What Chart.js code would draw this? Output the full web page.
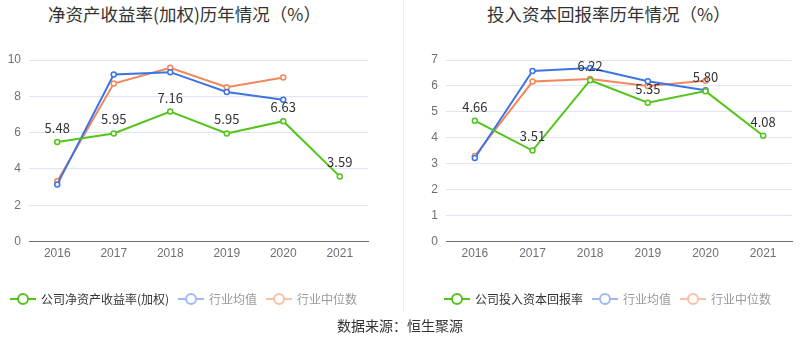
<!DOCTYPE html>
<html>
<head>
  <title>净资产收益率与投入资本回报率</title>
  <script src="https://cdn.jsdelivr.net/npm/chart.js"></script>
  <style>
    body {
      margin: 0;
      width: 800px;
      height: 358px;
      background: #fff;
      font-family: "Noto Sans CJK SC", "Noto Sans", sans-serif;
      position: relative;
      overflow: hidden;
    }
    .title {
      position: absolute;
      top: 1px;
      font-size: 17.5px;
      color: #333;
      white-space: nowrap;
    }
    .box {
      position: absolute;
      top: 0;
      width: 376px;
      height: 323px;
    }
    #divider {
      position: absolute;
      left: 403px;
      top: 0;
      width: 1px;
      height: 312px;
      background: #eeeeee;
    }
    #source {
      position: absolute;
      top: 315px;
      width: 800px;
      text-align: center;
      font-size: 14px;
      color: #333;
    }
  </style>
</head>
<body>
  <div class="title" style="left:48px">净资产收益率(加权)历年情况（%）</div>
  <div class="title" style="left:487px">投入资本回报率历年情况（%）</div>
  <div class="box" style="left:0"><canvas id="roeChart" width="376" height="323"></canvas></div>
  <div class="box" style="left:424px"><canvas id="roicChart" width="376" height="323"></canvas></div>
  <div id="divider"></div>
  <div id="source">数据来源：恒生聚源</div>

  <script>
    const years = ["2016", "2017", "2018", "2019", "2020", "2021"];

    // 净资产收益率(加权)
    const roeCompany = [5.48, 5.95, 7.16, 5.95, 6.63, 3.59];
    const roeAvg = [3.15, 9.2, 9.33, 8.24, 7.81, null];
    const roeMedian = [3.33, 8.7, 9.57, 8.5, 9.04, null];

    // 投入资本回报率
    const roicCompany = [4.66, 3.51, 6.22, 5.35, 5.80, 4.08];
    const roicAvg = [3.22, 6.58, 6.69, 6.18, 5.83, null];
    const roicMedian = [3.30, 6.17, 6.27, 6.0, 6.2, null];

    const GREEN = "#52c41a", BLUE = "#3c74e6", ORANGE = "#f5865c";
    const BLUE_FADE = "#9fbaf2", ORANGE_FADE = "#fbbfa6";

    function legendIcon(color) {
      const c = document.createElement("canvas");
      c.width = 26; c.height = 14;
      const g = c.getContext("2d");
      g.strokeStyle = color;
      g.lineWidth = 2;
      g.beginPath(); g.moveTo(0, 7); g.lineTo(26, 7); g.stroke();
      g.fillStyle = "#fff";
      g.beginPath(); g.arc(13, 7, 5, 0, Math.PI * 2); g.fill(); g.stroke();
      return c;
    }

    const valueLabels = {
      id: "valueLabels",
      afterDatasetsDraw(chart) {
        const ctx = chart.ctx;
        const meta = chart.getDatasetMeta(0);
        ctx.save();
        ctx.font = "13px 'Noto Sans CJK SC', sans-serif";
        ctx.fillStyle = "#333";
        ctx.textAlign = "center";
        ctx.textBaseline = "middle";
        meta.data.forEach((pt, i) => {
          const v = chart.data.datasets[0].data[i];
          if (v == null) return;
          ctx.fillText(v.toFixed(2), pt.x, pt.y - 14);
        });
        ctx.restore();
      }
    };

    function makeChart(id, companyLabel, company, avg, median, max, step, axisWidth) {
      const ds = (label, data, color) => ({
        label, data,
        borderColor: color,
        backgroundColor: "#fff",
        borderWidth: 2,
        pointRadius: 2.5,
        pointBorderWidth: 1.5,
        pointHoverRadius: 2.5,
        tension: 0
      });
      const icons = [legendIcon(GREEN), legendIcon(BLUE_FADE), legendIcon(ORANGE_FADE)];
      const textColors = ["#333", "#999", "#999"];
      return new Chart(document.getElementById(id), {
        type: "line",
        data: {
          labels: years,
          datasets: [
            ds(companyLabel, company, GREEN),
            ds("行业均值", avg, BLUE),
            ds("行业中位数", median, ORANGE)
          ]
        },
        options: {
          responsive: false,
          animation: false,
          layout: { padding: { top: 60, right: 8, left: 0, bottom: 8 } },
          scales: {
            x: {
              offset: true,
              afterFit(scale) { scale.height += 17; },
              grid: { display: false, drawTicks: false },
              border: { color: "#6e7079" },
              ticks: { color: "#6e7079", font: { size: 12 }, padding: 5 }
            },
            y: {
              min: 0, max: max,
              afterFit(scale) { scale.width = axisWidth; },
              grid: { color: "#e0e6f1", drawTicks: false },
              border: { display: false },
              ticks: { stepSize: step, color: "#6e7079", font: { size: 12 }, padding: 8 }
            }
          },
          plugins: {
            tooltip: { enabled: false },
            legend: {
              position: "bottom",
              align: "center",
              labels: {
                usePointStyle: true,
                pointStyleWidth: 24,
                padding: 10,
                font: { size: 12, family: "'Noto Sans CJK SC', sans-serif" },
                generateLabels(chart) {
                  return chart.data.datasets.map((d, i) => ({
                    text: d.label,
                    datasetIndex: i,
                    pointStyle: icons[i],
                    fontColor: textColors[i],
                    hidden: false,
                    lineWidth: 0
                  }));
                }
              }
            }
          }
        },
        plugins: [valueLabels]
      });
    }

    makeChart("roeChart", "公司净资产收益率(加权)", roeCompany, roeAvg, roeMedian, 10, 2, 29);
    makeChart("roicChart", "公司投入资本回报率", roicCompany, roicAvg, roicMedian, 7, 1, 22);
  </script>
</body>
</html>
